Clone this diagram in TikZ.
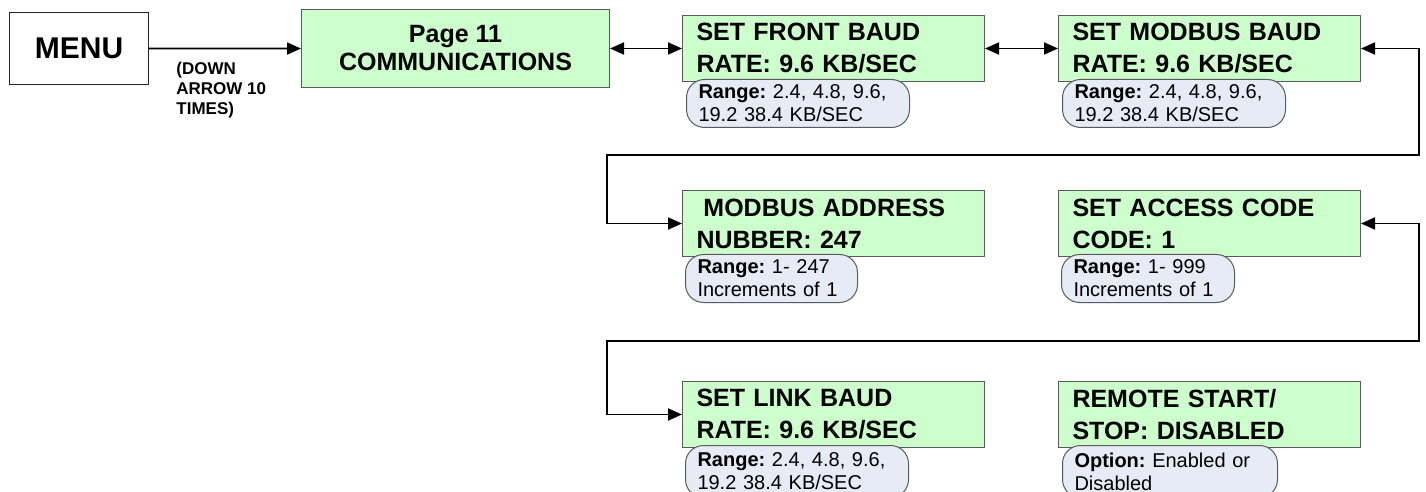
\documentclass[tikz,border=0pt]{standalone}
\usepackage{fontspec}
\setmainfont{Liberation Sans}
\usepackage{xcolor}
\usetikzlibrary{positioning, arrows.meta, calc}
\definecolor{screenGreen}{HTML}{CCFFCC}
\definecolor{noteFill}{HTML}{E6EBF6}
\definecolor{edgeGray}{HTML}{5A5A5A}
\frenchspacing

\begin{document}
\begin{tikzpicture}[x=0.5pt, y=-0.5pt,
  menubox/.style={rectangle, draw=black!85, fill=white, line width=0.6pt,
              minimum width=69.5pt, minimum height=36pt, anchor=north west,
              font=\fontsize{15}{18}\selectfont\bfseries},
  pagebox/.style={rectangle, draw=edgeGray, fill=screenGreen, line width=0.5pt,
              minimum width=154pt, minimum height=39pt, anchor=north west,
              align=center, font=\fontsize{12.5}{14}\selectfont\bfseries},
  screen/.style={rectangle, draw=edgeGray, fill=screenGreen, line width=0.5pt,
              minimum width=151pt, minimum height=33pt, text width=137pt,
              inner xsep=7pt, anchor=north west, align=left,
              font=\fontsize{12.5}{16}\selectfont\bfseries},
  rangenote/.style={rectangle, rounded corners=9pt, draw=edgeGray, fill=noteFill,
              line width=0.5pt, text width=#1, inner xsep=6pt, inner ysep=0.5pt,
              minimum height=24pt, align=left,
              font=\fontsize{10}{11.5}\selectfont},
  presses/.style={anchor=north west, inner sep=0pt, align=left,
              font=\fontsize{8.5}{10}\selectfont\bfseries},
  link/.style={-{Triangle[length=7pt, width=6pt]}, line width=0.9pt},
  twoway/.style={{Triangle[length=7pt, width=6pt]}-{Triangle[length=7pt, width=6pt]},
              line width=0.9pt},
]
  \useasboundingbox (0,0) rectangle (1426,492);

  % top row
  \node[menubox] (menu) at (9,12) {MENU};
  \node[pagebox] (page11) at (301,9) {Page 11\\COMMUNICATIONS};
  \node[presses] (downnote) at (176,62) {(DOWN\\ARROW 10\\TIMES)};

  \node[screen] (frontbaud) at (682,15) {SET FRONT BAUD\\RATE: 9.6 KB/SEC};
  \node[rangenote=99.5pt, below right=-1.5pt and 2pt of frontbaud.south west]
        (frontrange) {\textbf{Range:} 2.4, 4.8, 9.6,\\19.2 38.4 KB/SEC};

  \node[screen] (modbaud) at (1058,15) {SET MODBUS BAUD\\RATE: 9.6 KB/SEC};
  \node[rangenote=99.5pt, below right=-1.5pt and 2pt of modbaud.south west]
        (modrange) {\textbf{Range:} 2.4, 4.8, 9.6,\\19.2 38.4 KB/SEC};

  % second row
  \node[screen] (modaddr) at (682,190) {\hspace*{0.278em}MODBUS ADDRESS\\NUBBER: 247};
  \node[rangenote=74pt, below right=-1.5pt and 1.5pt of modaddr.south west]
        (addrrange) {\textbf{Range:} 1- 247\\Increments of 1};

  \node[screen] (access) at (1058,190) {SET ACCESS CODE\\CODE: 1};
  \node[rangenote=74.5pt, below right=-1.5pt and 1.5pt of access.south west]
        (accessrange) {\textbf{Range:} 1- 999\\Increments of 1};

  % third row
  \node[screen] (linkbaud) at (682,381) {SET LINK BAUD\\RATE: 9.6 KB/SEC};
  \node[rangenote=99.5pt, minimum height=26pt, below right=-1.5pt and 1.5pt of linkbaud.south west]
        (linkrange) {\textbf{Range:} 2.4, 4.8, 9.6,\\19.2 38.4 KB/SEC};

  \node[screen] (remote) at (1058,381) {REMOTE START/\\STOP: DISABLED};
  \node[rangenote=95.5pt, minimum height=26pt, below right=-1.5pt and 2pt of remote.south west]
        (remoteopt) {\textbf{Option:} Enabled or\\Disabled};

  % turning points of the return lines
  \coordinate (turnAr) at (1419,155);
  \coordinate (turnAl) at (607,155);
  \coordinate (turnBr) at (1419,341);
  \coordinate (turnBl) at (607,341);

  \draw[link] (menu) -- (page11);
  \draw[twoway] (page11.east |- frontbaud.west) -- (frontbaud.west);
  \draw[twoway] (frontbaud.east) -- (modbaud.west);

  \draw[twoway] (modbaud.east) -| (turnAr) -- (turnAl) |- (modaddr.west);
  \draw[twoway] (access.east) -| (turnBr) -- (turnBl) |- (linkbaud.west);
\end{tikzpicture}
\end{document}
